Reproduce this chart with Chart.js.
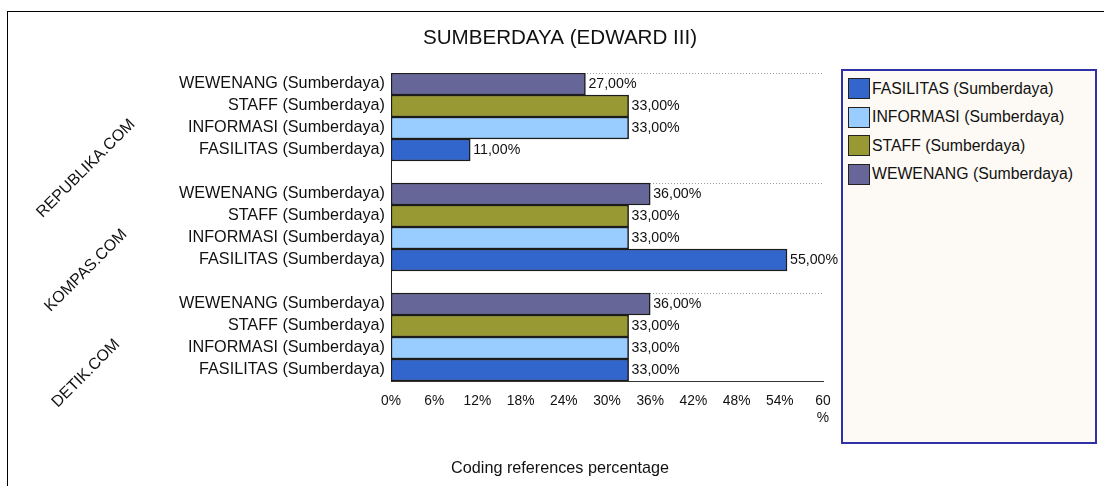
<!DOCTYPE html>
<html>
<head>
<meta charset="utf-8">
<script src="https://cdn.jsdelivr.net/npm/chart.js@4"></script>
<style>
  html, body { margin: 0; padding: 0; background: #fff; }
  body { width: 1104px; height: 486px; position: relative; overflow: hidden;
         font-family: 'Liberation Sans', Arial, sans-serif; }
  #frame { position: absolute; left: 7px; top: 11px; width: 1200px; height: 600px;
           border-left: 1px solid #000; border-top: 1px solid #000; }
  #chart { position: absolute; left: 0; top: 0; }
  #legend { position: absolute; left: 841px; top: 69px; width: 252px; height: 371px;
            background: #fdf9f4; border: 2px solid #3030a8; }
  .leg-item { position: absolute; left: 5px; display: flex; align-items: center;
              font-size: 15.8px; color: #111; white-space: nowrap; }
  .leg-sw { width: 20px; height: 19px; border: 1px solid #222; margin-right: 2px; }
</style>
</head>
<body>
<div id="frame"></div>
<canvas id="chart" width="1104" height="486"></canvas>
<div id="legend"></div>
<script>
// ── Data ──────────────────────────────────────────────────
const sources     = ['REPUBLIKA.COM', 'KOMPAS.COM', 'DETIK.COM'];
const seriesNames = ['FASILITAS (Sumberdaya)', 'INFORMASI (Sumberdaya)',
                     'STAFF (Sumberdaya)', 'WEWENANG (Sumberdaya)'];
const fasilitas   = [11, 55, 33];
const informasi   = [33, 33, 33];
const staff       = [33, 33, 33];
const wewenang    = [27, 36, 36];
const xTicks      = [0, 6, 12, 18, 24, 30, 36, 42, 48, 54, 60];

const COLORS = ['#3366cc', '#99ccff', '#999933', '#666699'];
const FONT   = "'Liberation Sans', Arial, sans-serif";

// ── Rows: each source gets 4 bars (top→bottom WEWENANG..FASILITAS) + gap ──
const seriesValues = [fasilitas, informasi, staff, wewenang];
const rowLabels = [];
const rowMap = [];   // {series, source}
sources.forEach((src, s) => {
  for (let k = seriesNames.length - 1; k >= 0; k--) {
    rowLabels.push(seriesNames[k]);
    rowMap.push({ series: k, source: s });
  }
  if (s < sources.length - 1) { rowLabels.push(''); rowMap.push(null); }
});

const datasets = seriesNames.map((name, k) => ({
  label: name,
  data: rowMap.map(r => (r && r.series === k) ? seriesValues[k][r.source] : null),
  backgroundColor: COLORS[k],
  borderColor: '#1c1c1c',
  borderWidth: 1.5,
  borderSkipped: false,
  categoryPercentage: 1,
  barPercentage: 1,
}));

// ── Extra text: title, axis title, group labels, value labels ──
const extras = {
  id: 'extras',
  afterDatasetsDraw(chart) {
    const { ctx } = chart;
    ctx.save();
    ctx.fillStyle = '#111';

    // value labels
    ctx.font = `14.2px ${FONT}`;
    ctx.textAlign = 'left';
    ctx.textBaseline = 'middle';
    chart.data.datasets.forEach((ds, i) => {
      chart.getDatasetMeta(i).data.forEach((el, j) => {
        const v = ds.data[j];
        if (v == null) return;
        ctx.fillText(v.toFixed(2).replace('.', ',') + '%', el.x + 3, el.y);
      });
    });

    // title
    ctx.textAlign = 'center';
    ctx.font = `20.6px ${FONT}`;
    ctx.fillText('SUMBERDAYA (EDWARD III)', 560, 38);

    // x axis title
    ctx.font = `16.2px ${FONT}`;
    ctx.fillText('Coding references percentage', 560, 469);

    // rotated source labels
    const y = chart.scales.y;
    ctx.font = `16px ${FONT}`;
    sources.forEach((src, s) => {
      const first = s * 5;
      const gc = (y.getPixelForValue(first + 1) + y.getPixelForValue(first + 2)) / 2;
      const w = ctx.measureText(src).width;
      ctx.save();
      ctx.translate(86, gc + w / 2 * Math.SQRT1_2 + 5);
      ctx.rotate(-Math.PI / 4);
      ctx.fillText(src, 0, 0);
      ctx.restore();
    });
    ctx.restore();
  },
};

new Chart(document.getElementById('chart'), {
  type: 'bar',
  data: { labels: rowLabels, datasets },
  plugins: [extras],
  options: {
    indexAxis: 'y',
    responsive: false,
    animation: false,
    devicePixelRatio: 1,
    layout: { padding: { left: 0, top: 73, right: 281, bottom: 0 } },
    plugins: {
      legend: { display: false },
      title: { display: false },
      tooltip: { enabled: false },
    },
    scales: {
      x: {
        stacked: true,
        min: 0,
        max: 60,
        afterFit: s => { s.height = 105; },
        afterBuildTicks: s => { s.ticks = xTicks.map(v => ({ value: v })); },
        grid: { display: false },
        border: { display: true, color: '#333', width: 1 },
        ticks: {
          padding: 4,
          color: '#111',
          font: { family: FONT, size: 13.8 },
          maxRotation: 0,
          autoSkip: false,
          callback: v => v === 60 ? ['60', '%'] : v + '%',
        },
      },
      y: {
        stacked: true,
        afterFit: s => { s.width = 391; },
        grid: {
          drawTicks: false,
          color: c => [0, 5, 10].includes(c.index) ? '#9a9a9a' : 'rgba(0,0,0,0)',
          lineWidth: 1,
        },
        border: { display: true, color: '#222', width: 1, dash: [1, 2] },
        ticks: {
          padding: 6,
          color: '#111',
          autoSkip: false,
          font: { family: FONT, size: 16.2 },
        },
      },
    },
  },
});

// ── HTML legend ───────────────────────────────────────────
const legend = document.getElementById('legend');
seriesNames.forEach((name, k) => {
  const item = document.createElement('div');
  item.className = 'leg-item';
  item.style.top = (7 + k * 28.5) + 'px';
  item.innerHTML = `<span class="leg-sw" style="background:${COLORS[k]}"></span>${name}`;
  legend.appendChild(item);
});
</script>
</body>
</html>
